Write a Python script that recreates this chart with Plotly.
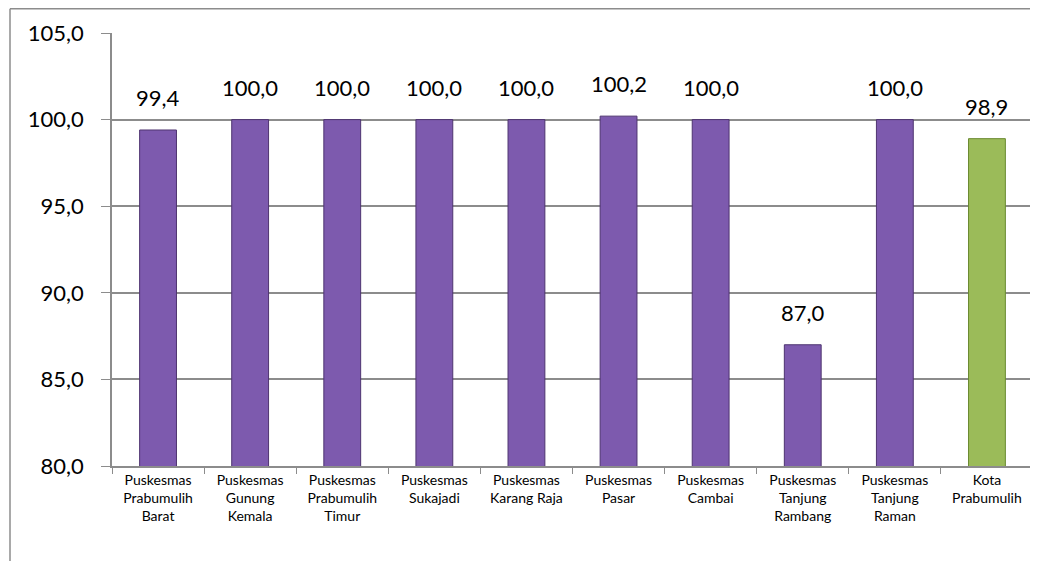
import plotly.graph_objects as go

categories = [
    "Puskesmas<br>Prabumulih<br>Barat",
    "Puskesmas<br>Gunung<br>Kemala",
    "Puskesmas<br>Prabumulih<br>Timur",
    "Puskesmas<br>Sukajadi",
    "Puskesmas<br>Karang Raja",
    "Puskesmas<br>Pasar",
    "Puskesmas<br>Cambai",
    "Puskesmas<br>Tanjung<br>Rambang",
    "Puskesmas<br>Tanjung<br>Raman",
    "Kota<br>Prabumulih",
]
values = [99.4, 100.0, 100.0, 100.0, 100.0, 100.2, 100.0, 87.0, 100.0, 98.9]
labels = ["99,4", "100,0", "100,0", "100,0", "100,0", "100,2", "100,0", "87,0", "100,0", "98,9"]
tick_vals = [80, 85, 90, 95, 100, 105]
tick_text = ["80,0", "85,0", "90,0", "95,0", "100,0", "105,0"]

purple = "#7D5AAE"
green = "#9BBB59"
colors = [purple] * 9 + [green]
edge = ["#4E3470"] * 9 + ["#6A8A30"]

FONT = "Lato, Carlito, sans-serif"
W, H = 1038, 561
# page body has an 8px offset; margins compensate for it
ml, mr, mt, mb = 104, 13, 25, 103

fig = go.Figure()
fig.add_trace(go.Bar(
    x=categories, y=values,
    marker=dict(color=colors, line=dict(color=edge, width=1)),
    width=0.4,
    hoverinfo="skip",
))

for c, v, t in zip(categories, values, labels):
    fig.add_annotation(x=c, y=v, text=t, showarrow=False,
                       xref="x", yref="y", yanchor="bottom", yshift=17,
                       font=dict(family=FONT, size=22, color="#000000"))

pw = W - ml - mr
ph = H - mt - mb
def px_x(p):
    return (p - ml) / pw
def px_y(p):
    return 1 - (p - mt) / ph

frame = dict(color="#8C8C8C", width=1.5)
fig.add_shape(type="line", xref="paper", yref="paper",
              x0=px_x(2), x1=px_x(1040), y0=px_y(0.8), y1=px_y(0.8), line=frame)
fig.add_shape(type="line", xref="paper", yref="paper",
              x0=px_x(2), x1=px_x(2), y0=px_y(0.8), y1=px_y(570), line=frame)

fig.update_layout(
    width=W, height=H,
    margin=dict(l=ml, r=mr, t=mt, b=mb),
    plot_bgcolor="white", paper_bgcolor="white",
    showlegend=False,
    font=dict(family=FONT, color="#000000"),
)
fig.update_xaxes(
    type="category",
    tickfont=dict(size=14, family=FONT),
    showline=True, linecolor="#8C8C8C", linewidth=1.5,
    ticks="outside", tickson="boundaries", ticklen=6, tickcolor="#8C8C8C",
    showgrid=False,
)
fig.update_yaxes(
    range=[80, 105],
    tickvals=tick_vals, ticktext=tick_text,
    tickfont=dict(size=22, family=FONT),
    showline=True, linecolor="#8C8C8C", linewidth=1.5,
    ticks="outside", ticklen=9, tickcolor="#8C8C8C",
    showgrid=True, gridcolor="#8C8C8C", gridwidth=1.5,
    zeroline=False,
    ticklabelstandoff=13,
)

fig.write_html("out.html")
